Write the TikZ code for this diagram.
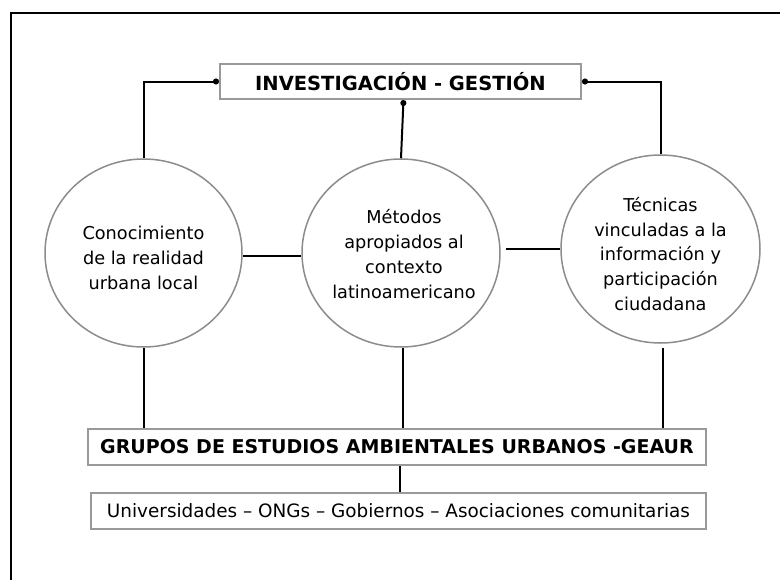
\documentclass[tikz,border=0pt]{standalone}
\usepackage{fontspec}
\setmainfont{DejaVu Sans}
\usetikzlibrary{shapes.geometric,arrows.meta,calc}
\begin{document}
\begin{tikzpicture}[x=1pt,y=-1pt,
  conn/.style={line width=2pt,black},
  dotend/.style={conn,-{Circle[length=6pt,width=6pt]}},
  oval/.style={ellipse,draw=black!45,line width=1.5pt,inner sep=0pt},
  ovaltext/.style={align=center,inner sep=0pt,font=\fontsize{17.7}{24.8}\selectfont},
  gbox/.style={rectangle,draw=black!40,line width=2pt,inner sep=0pt}]
\useasboundingbox (0,0) rectangle (780,579);
\fill[white] (0,0) rectangle (780,579);
\draw[line width=2.5pt] (781,13) -- (11,13) -- (11,580);
% top box
\node[gbox,minimum width=361pt,minimum height=35pt,font=\fontsize{19.5}{22}\bfseries] (T) at (400.5,81.5) {INVESTIGACIÓN - GESTIÓN};
% ellipses
\node[oval,minimum width=197pt,minimum height=188pt] (L) at (143.5,253) {};
\node[oval,minimum width=198pt,minimum height=188pt] (M) at (401,253) {};
\node[oval,minimum width=199pt,minimum height=188pt] (R) at (660.5,249) {};
\node[ovaltext] (Lt) at ([yshift=-5pt]L.center) {Conocimiento\\de la realidad\\urbana local};
\node[ovaltext] (Mt) at ([yshift=-1pt,xshift=3pt]M.center) {Métodos\\apropiados al\\contexto\\latinoamericano};
\node[ovaltext] (Rt) at ([yshift=-5pt]R.center) {Técnicas\\vinculadas a la\\información y\\participación\\ciudadana};
% bottom boxes
\node[gbox,minimum width=618pt,minimum height=36pt,font=\fontsize{19}{20}\bfseries] (G) at (397,447) {GRUPOS DE ESTUDIOS AMBIENTALES URBANOS -GEAUR};
\node[gbox,minimum width=615pt,minimum height=36pt,font=\fontsize{18.4}{20}\selectfont] (U) at (398.5,511) {Universidades – ONGs – Gobiernos – Asociaciones comunitarias};
% connectors
\draw[dotend] (L.north) |- (T.west);
\draw[dotend] (R.north) |- (T.east);
\draw[dotend] (M.north) -- ([xshift=3pt]T.south);
\coordinate (lm) at ($(L.east)+(0,3)$);
\draw[conn] (lm) -- (lm -| M.west);
\coordinate (mr) at ($(M.east |- R.west)+(5,0)$);
\draw[conn] (mr) -- (R.west);
\draw[conn] (L.south) -- (L.south |- G.north);
\draw[conn] ([xshift=2pt]M.south) -- ([xshift=2pt]M.south |- G.north);
\draw[conn] ([yshift=-4pt,xshift=2pt]R.south) -- ([xshift=2pt]R.south |- G.north);
\draw[conn] ([xshift=3pt]G.south) -- ([xshift=3pt]G.south |- U.north);
\end{tikzpicture}
\end{document}
